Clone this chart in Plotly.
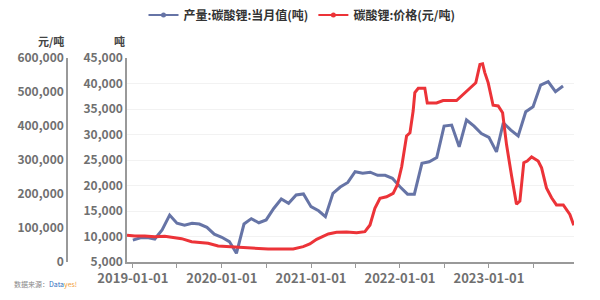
import plotly.graph_objects as go

# ---- data ----
prod_months = [
    "2019-01-01","2019-02-01","2019-03-01","2019-04-01","2019-05-01","2019-06-01",
    "2019-07-01","2019-08-01","2019-09-01","2019-10-01","2019-11-01","2019-12-01",
    "2020-01-01","2020-02-01","2020-03-01","2020-04-01","2020-05-01","2020-06-01",
    "2020-07-01","2020-08-01","2020-09-01","2020-10-01","2020-11-01","2020-12-01",
    "2021-01-01","2021-02-01","2021-03-01","2021-04-01","2021-05-01","2021-06-01",
    "2021-07-01","2021-08-01","2021-09-01","2021-10-01","2021-11-01","2021-12-01",
    "2022-01-01","2022-02-01","2022-03-01","2022-04-01","2022-05-01","2022-06-01",
    "2022-07-01","2022-08-01","2022-09-01","2022-10-01","2022-11-01","2022-12-01",
    "2023-01-01","2023-02-01","2023-03-01","2023-04-01","2023-05-01","2023-06-01",
    "2023-07-01","2023-08-01","2023-09-01","2023-10-01","2023-11-01",
]
prod_values = [
    9300, 9750, 9800, 9500, 11300, 14200,
    12600, 12200, 12600, 12450, 11800, 10450,
    9850, 9000, 6700, 12450, 13500, 12700,
    13250, 15500, 17350, 16500, 18150, 18350,
    15850, 15050, 13900, 18450, 19700, 20600,
    22700, 22400, 22600, 22000, 22000, 21400,
    19750, 18300, 18300, 24350, 24650, 25500,
    31650, 31850, 27600, 32850, 31650, 30200,
    29450, 26600, 32300, 30850, 29700, 34450,
    35450, 39700, 40350, 38400, 39500,
]

price_dates = [
    "2018-12-08","2019-01-09","2019-02-19","2019-04-01","2019-05-12","2019-06-22",
    "2019-07-20","2019-08-30","2019-10-10","2019-11-06","2019-12-17","2020-01-27",
    "2020-03-08","2020-04-18","2020-05-29","2020-07-09","2020-09-16","2020-10-20",
    "2020-11-30","2020-12-27","2021-01-24","2021-02-20","2021-03-13","2021-04-16",
    "2021-05-27","2021-07-07","2021-08-10","2021-08-31","2021-09-20","2021-10-11",
    "2021-11-07","2021-12-04","2021-12-21","2022-01-08","2022-01-28","2022-02-11",
    "2022-02-24","2022-03-03","2022-03-17","2022-04-13","2022-04-23","2022-05-31",
    "2022-06-27","2022-08-21","2022-09-17","2022-10-15","2022-11-08","2022-11-25",
    "2022-12-06","2022-12-15","2022-12-29","2023-01-18","2023-02-08","2023-02-26",
    "2023-03-14","2023-04-04","2023-04-24","2023-05-08","2023-05-24","2023-06-07",
    "2023-06-25","2023-07-22","2023-08-05","2023-08-25","2023-09-15","2023-10-05",
    "2023-11-02","2023-11-29","2023-12-15",
]
price_values = [
    79000, 76500, 76500, 74500, 76000, 72600,
    68600, 59800, 56900, 55000, 47100, 45100,
    45100, 43100, 40200, 38200, 38200, 38500,
    45100, 53000, 66800, 74500, 82400, 87400,
    88200, 86300, 89200, 108800, 157900, 187300,
    192000, 202000, 226400, 280200, 370600, 380000,
    444000, 498000, 511000, 511000, 468000, 468000,
    475000, 475000, 493000, 513000, 527000, 581000,
    583000, 557000, 527000, 461000, 459000, 439000,
    346000, 253000, 170000, 179000, 292000, 297000,
    309000, 297000, 277000, 218000, 189000, 168000,
    168000, 140000, 108000,
]

prod_name = "产量:碳酸锂:当月值(吨)"
price_name = "碳酸锂:价格(元/吨)"
prod_ticks = [5000, 10000, 15000, 20000, 25000, 30000, 35000, 40000, 45000]
price_ticks = [0, 100000, 200000, 300000, 400000, 500000, 600000]
x_tickvals = ["2019-01-01", "2020-01-01", "2021-01-01", "2022-01-01", "2023-01-01"]

BLUE = "#6674a6"
RED = "#ec3338"
FONT = "Noto Sans CJK SC"
TICKC = "#707070"

fig = go.Figure()
fig.add_trace(go.Scatter(x=prod_months, y=prod_values, mode="lines", name=prod_name,
                         line=dict(color=BLUE, width=3), yaxis="y", showlegend=False))
fig.add_trace(go.Scatter(x=price_dates, y=price_values, mode="lines", name=price_name,
                         line=dict(color=RED, width=3), yaxis="y2", showlegend=False))
# legend entries
fig.add_trace(go.Scatter(x=[None], y=[None], mode="lines+markers", name=prod_name,
                         line=dict(color=BLUE, width=2), marker=dict(size=5, color=BLUE)))
fig.add_trace(go.Scatter(x=[None], y=[None], mode="lines+markers", name=price_name,
                         line=dict(color=RED, width=2), marker=dict(size=5, color=RED)))

L, R, T, B = 10, 26, 58, 38
W = 600 - L - R
H = 300 - T - B
def px_x(p):
    return (p - L) / W
def px_y(p):
    return (300 - B - p) / H

tickfont = dict(family=FONT, size=12, color=TICKC, weight="bold")

fig.update_layout(
    width=600, height=300,
    margin=dict(l=L, r=R, t=T, b=B, autoexpand=False),
    paper_bgcolor="white", plot_bgcolor="white",
    font=dict(family=FONT),
    xaxis=dict(
        type="date", domain=[px_x(127), 1],
        range=["2018-12-08", "2023-12-16"],
        tickvals=x_tickvals, tickformat="%Y-%m-%d",
        ticks="outside", ticklen=4, tickcolor="#999", tickwidth=1,
        minor=dict(dtick="M6", tick0="2019-01-01", ticks="outside", ticklen=4,
                   tickcolor="#999", showgrid=False),
        showline=True, linecolor="#999", linewidth=1.5,
        showgrid=False, zeroline=False,
        ticklabelstandoff=0,
        tickfont=dict(family=FONT, size=13, color=TICKC, weight="bold"),
    ),
    yaxis=dict(
        range=[5000, 45000], tickvals=prod_ticks, tickformat=",d",
        anchor="x", side="left",
        showline=True, linecolor="#999", linewidth=1.5,
        showgrid=True, gridcolor="#f2f2f2", gridwidth=1, zeroline=False,
        ticks="", tickfont=tickfont,
    ),
    yaxis2=dict(
        range=[0, 600000], tickvals=price_ticks, tickformat=",d",
        overlaying="y", anchor="free", position=px_x(67), side="left",
        showline=True, linecolor="#999", linewidth=1.5,
        showgrid=False, zeroline=False,
        ticks="", tickfont=tickfont,
    ),
    legend=dict(
        orientation="h", x=px_x(302), xanchor="center", y=px_y(15), yanchor="middle",
        font=dict(family=FONT, size=12, color="#333", weight="bold"),
        itemwidth=30, bgcolor="rgba(0,0,0,0)",
    ),
    annotations=[
        dict(text="元/吨", x=px_x(66), y=px_y(41), xref="paper", yref="paper",
             xanchor="right", yanchor="middle", showarrow=False,
             font=dict(family=FONT, size=11, color="#444", weight="bold")),
        dict(text="吨", x=px_x(127), y=px_y(41), xref="paper", yref="paper",
             xanchor="right", yanchor="middle", showarrow=False,
             font=dict(family=FONT, size=11, color="#444", weight="bold")),
        dict(text="数据来源：<span style='color:#2f6fc0'>Data</span><span style='color:#f2a03a'>yes!</span>",
             x=px_x(12), y=px_y(284), xref="paper", yref="paper",
             xanchor="left", yanchor="middle", showarrow=False,
             font=dict(family=FONT, size=7, color="#888")),
    ],
)

fig.write_html("out.html")
